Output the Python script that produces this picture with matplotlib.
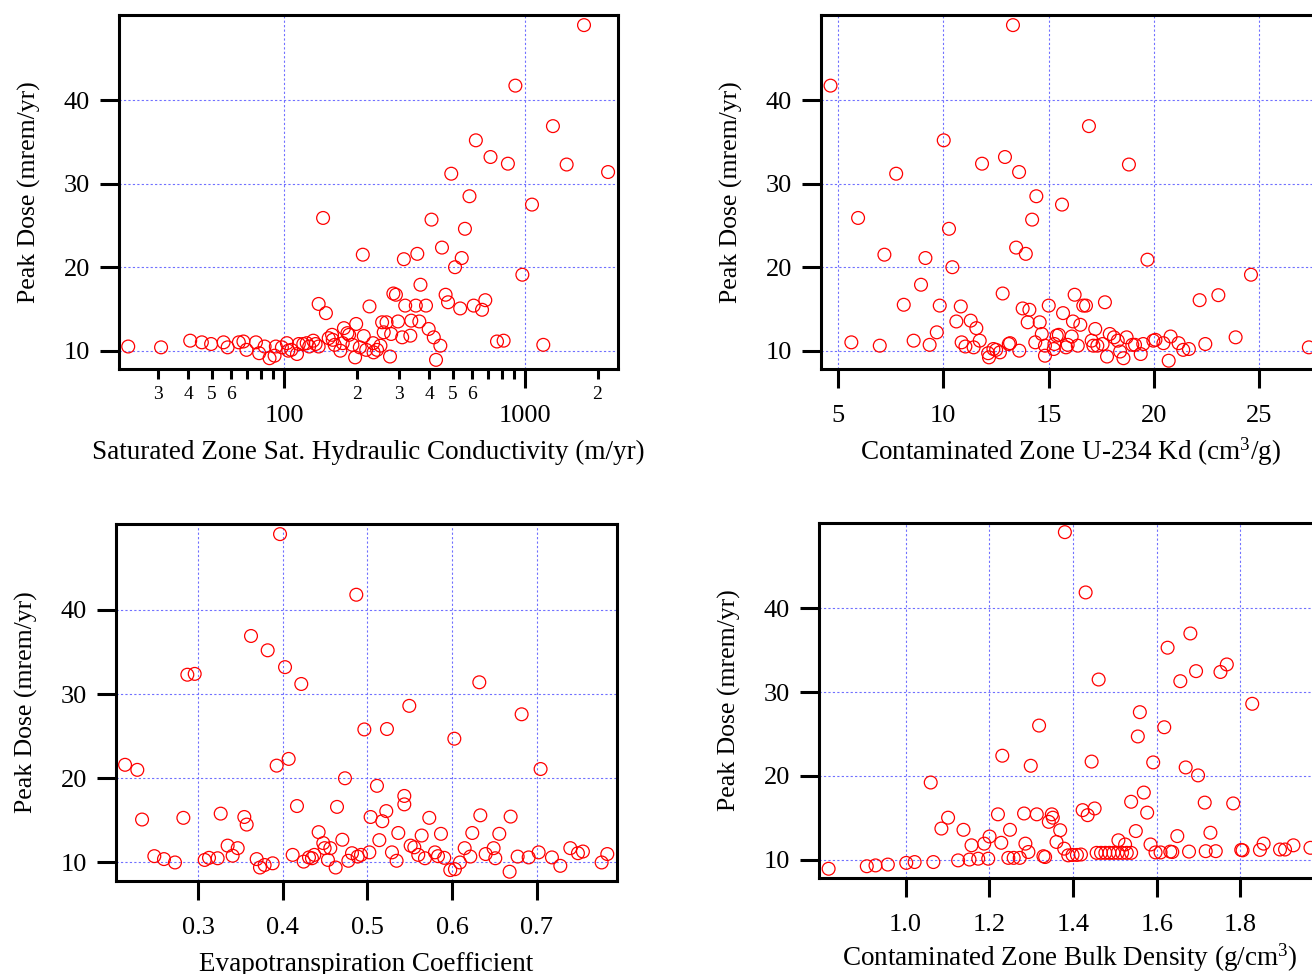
import numpy as np
import matplotlib
matplotlib.use("Agg")
import matplotlib.pyplot as plt
from matplotlib.ticker import FixedLocator, FuncFormatter

plt.rcParams['font.family'] = ['Liberation Serif', 'DejaVu Serif']
plt.rcParams['mathtext.fontset'] = 'custom'
plt.rcParams['mathtext.rm'] = 'Liberation Serif'
plt.rcParams['mathtext.it'] = 'Liberation Serif:italic'

# --- data ---
# panel 1: saturated zone hydraulic conductivity (m/yr), log axis
k_sat = [1758, 912, 1306, 625, 719, 849, 1489, 494, 2213, 588, 1069, 145, 409, 563,
         452, 212, 314, 357, 546, 512, 975, 368, 284, 291, 468, 479, 139, 226, 318,
         352, 388, 538, 612, 663, 684, 149, 255, 266, 297, 337, 364, 199, 177, 186,
         183, 214, 259, 278, 398, 309, 334, 418, 445, 765, 815, 1191, 427, 275, 197,
         235, 243, 251, 234, 219, 206, 192, 171, 175, 162, 159, 153, 158, 139, 132,
         135, 127, 124, 120, 115, 113, 107, 102.6, 104, 97.8, 92.3, 91.2, 86.9, 82.9,
         78.7, 76.3, 69.7, 67.7, 64.8, 58.2, 56.0, 49.7, 45.5, 40.7, 30.8, 22.5]
dose_k = [49.0, 41.75, 36.9, 35.2, 33.2, 32.4, 32.3, 31.2, 31.4, 28.5, 27.5, 25.9, 25.7,
          24.6, 22.35, 21.5, 20.96, 21.6, 21.1, 20.0, 19.1, 17.9, 16.85, 16.7, 16.7,
          15.8, 15.6, 15.3, 15.4, 15.4, 15.4, 15.06, 15.4, 14.9, 16.05, 14.5, 13.4,
          13.4, 13.5, 13.6, 13.5, 13.2, 12.7, 11.9, 12.1, 11.75, 12.2, 12.0, 12.6, 11.6,
          11.8, 11.6, 10.6, 11.1, 11.2, 10.7, 8.9, 9.3, 9.2, 9.8, 10.1, 10.6, 10.9,
          10.1, 10.4, 10.7, 10.0, 10.9, 10.7, 11.3, 11.5, 11.9, 10.5, 11.2, 10.8, 10.5,
          10.9, 10.8, 10.8, 9.6, 10.1, 10.9, 10.0, 10.4, 10.5, 9.4, 9.1, 10.5, 9.7,
          11.0, 10.1, 11.1, 11.0, 10.4, 11.0, 10.8, 11.0, 11.2, 10.4, 10.5]

# panel 2: contaminated zone U-234 Kd (cm3/g)
kd_u234 = [4.64, 13.31, 10.02, 16.92, 12.93, 11.84, 18.82, 13.60, 7.76, 14.42, 15.64,
           5.95, 14.22, 10.27, 13.46, 13.92, 7.20, 9.15, 19.70, 10.43, 24.62, 8.94,
           12.82, 16.24, 23.07, 8.12, 9.83, 10.83, 15.01, 13.77, 14.09, 16.65, 16.78,
           17.68, 22.18, 15.69, 10.62, 11.30, 11.57, 14.01, 14.58, 16.16, 16.51, 17.22,
           9.69, 14.68, 15.39, 15.49, 16.10, 17.91, 18.11, 18.71, 20.80, 23.89, 5.63,
           6.98, 8.59, 9.35, 10.87, 11.05, 11.44, 11.73, 12.13, 12.17, 12.38, 12.51,
           12.69, 13.11, 13.17, 13.61, 14.37, 14.83, 14.83, 15.25, 15.28, 15.83, 15.91,
           16.39, 17.05, 17.13, 17.32, 17.57, 17.78, 18.29, 18.40, 18.56, 18.98, 19.11,
           19.38, 19.50, 19.98, 20.08, 20.46, 20.71, 21.18, 21.40, 21.67, 22.45, 27.37]
dose_kd = [41.75, 49.0, 35.2, 36.9, 33.2, 32.4, 32.3, 31.4, 31.2, 28.5, 27.5, 25.9,
           25.7, 24.6, 22.35, 21.6, 21.5, 21.1, 20.9, 20.0, 19.1, 17.9, 16.85, 16.7,
           16.65, 15.5, 15.4, 15.3, 15.4, 15.06, 14.9, 15.4, 15.4, 15.8, 16.05, 14.5,
           13.5, 13.6, 12.7, 13.4, 13.4, 13.5, 13.1, 12.6, 12.2, 12.0, 11.8, 11.9, 11.7,
           12.0, 11.6, 11.6, 11.7, 11.6, 11.0, 10.6, 11.2, 10.7, 11.0, 10.5, 10.4, 11.2,
           9.7, 9.2, 10.2, 10.1, 9.8, 10.8, 10.9, 10.0, 11.0, 10.6, 9.4, 10.2, 10.8,
           10.4, 10.7, 10.6, 11.2, 10.6, 10.6, 10.8, 9.3, 11.2, 9.9, 9.1, 10.7, 10.7,
           9.6, 10.8, 11.2, 11.3, 10.9, 8.8, 10.9, 10.1, 10.2, 10.8, 10.4]

# panel 3: evapotranspiration coefficient
evap = [0.3969, 0.487, 0.3626, 0.3823, 0.4028, 0.2874, 0.2961, 0.4220, 0.6323, 0.5496,
        0.6823, 0.4965, 0.5232, 0.6028, 0.4071, 0.3929, 0.2138, 0.2283, 0.7047, 0.4736,
        0.5114, 0.5437, 0.5437, 0.4169, 0.4642, 0.3268, 0.3547, 0.3575, 0.2827, 0.2339,
        0.5039, 0.5224, 0.5177, 0.5732, 0.6335, 0.6693, 0.4425, 0.5366, 0.5642, 0.5870,
        0.6240, 0.6559, 0.4705, 0.5142, 0.4480, 0.4496, 0.4563, 0.3350, 0.3409, 0.3469,
        0.5512, 0.5555, 0.6150, 0.6492, 0.7398, 0.7488, 0.7547, 0.7835, 0.7768, 0.2484,
        0.2598, 0.2728, 0.3079, 0.3130, 0.3232, 0.3693, 0.3732, 0.3787, 0.3882, 0.4118,
        0.4248, 0.4311, 0.4346, 0.4374, 0.4535, 0.4626, 0.4776, 0.4819, 0.4886, 0.4925,
        0.5024, 0.5291, 0.5346, 0.5602, 0.5681, 0.5799, 0.5835, 0.5909, 0.5980, 0.6035,
        0.6094, 0.6217, 0.6398, 0.6512, 0.6681, 0.6776, 0.6906, 0.7024, 0.7181, 0.7280]
dose_evap = [49.0, 41.8, 36.9, 35.2, 33.2, 32.3, 32.4, 31.2, 31.4, 28.6, 27.6, 25.8,
             25.85, 24.7, 22.3, 21.5, 21.6, 21.0, 21.1, 20.0, 19.1, 17.9, 16.9, 16.7,
             16.6, 15.8, 15.4, 14.5, 15.3, 15.1, 15.4, 16.1, 14.9, 15.3, 15.6, 15.45,
             13.6, 13.5, 13.2, 13.4, 13.5, 13.4, 12.7, 12.65, 12.3, 11.7, 11.7, 12.0,
             10.8, 11.7, 12.0, 11.8, 11.7, 11.7, 11.7, 11.1, 11.3, 11.0, 10.0, 10.75,
             10.4, 10.0, 10.3, 10.55, 10.5, 10.4, 9.4, 9.7, 9.9, 10.9, 10.1, 10.6, 10.5,
             10.9, 10.3, 9.4, 10.2, 11.1, 10.7, 10.9, 11.2, 11.2, 10.2, 10.9, 10.5, 11.2,
             10.75, 10.55, 9.1, 9.2, 10.0, 10.7, 11.0, 10.5, 8.9, 10.7, 10.6, 11.2, 10.6,
             9.6]

# panel 4: contaminated zone bulk density (g/cm3)
rho = [1.3805, 1.4301, 1.6803, 1.6259, 1.6939, 1.7522, 1.7674, 1.6563, 1.4612, 1.8281,
       1.5596, 1.3189, 1.6179, 1.5548, 1.2310, 1.2990, 1.4444, 1.5915, 1.6691, 1.6987,
       1.0600, 1.5691, 1.5388, 1.7146, 1.7826, 1.5771, 1.4229, 1.4349, 1.4516, 1.1015,
       1.0855, 1.1383, 1.2206, 1.2830, 1.3134, 1.3493, 1.3517, 1.3421, 1.2494, 1.3693,
       1.5500, 1.6491, 1.7282, 1.1575, 1.1879, 1.2006, 1.2286, 1.2862, 1.2934, 1.3605,
       1.3789, 1.5084, 1.5244, 1.5851, 1.8553, 1.9265, 1.9672, 0.8161, 0.9073, 0.9281,
       0.9576, 1.0016, 1.0216, 1.0663, 1.1255, 1.1527, 1.1735, 1.1974, 1.2454, 1.2582,
       1.2726, 1.3293, 1.3333, 1.3885, 1.3989, 1.4093, 1.4189, 1.4564, 1.4668, 1.4772,
       1.4868, 1.4964, 1.5068, 1.5172, 1.5284, 1.5388, 1.5971, 1.6091, 1.6323, 1.6371,
       1.6771, 1.7170, 1.7410, 1.8018, 1.8050, 1.8465, 1.8945, 1.9065]
dose_rho = [49.1, 41.9, 37.0, 35.3, 32.5, 32.4, 33.3, 31.3, 31.5, 28.6, 27.6, 26.0,
            25.8, 24.7, 22.4, 21.2, 21.7, 21.6, 21.0, 20.05, 19.2, 18.0, 16.9, 16.8,
            16.7, 15.6, 15.9, 15.3, 16.1, 15.0, 13.7, 13.55, 15.4, 15.5, 15.4, 15.4,
            15.0, 14.5, 13.55, 13.5, 13.4, 12.8, 13.2, 11.7, 11.9, 12.75, 12.0, 11.9,
            10.9, 12.1, 11.3, 12.3, 11.8, 11.8, 11.9, 11.7, 11.4, 8.9, 9.2, 9.3, 9.4,
            9.6, 9.7, 9.7, 9.9, 10.0, 10.1, 10.1, 10.2, 10.2, 10.2, 10.4, 10.3, 10.5,
            10.55, 10.55, 10.6, 10.8, 10.8, 10.8, 10.8, 10.8, 10.8, 10.8, 10.8, 10.8,
            10.85, 10.85, 10.95, 10.9, 10.95, 11.0, 11.0, 11.15, 11.1, 11.15, 11.2, 11.2]

y_ticks = [10, 20, 30, 40]
y_label = "Peak Dose (mrem/yr)"

GRID_COLOR = '#7070ff'
MARK_COLOR = 'red'


def style_axes(ax):
    ax.set_ylim(7.8, 50.2)
    ax.set_yticks(y_ticks)
    for s in ax.spines.values():
        s.set_linewidth(2.2)
    ax.tick_params(axis='both', which='major', direction='out', length=14, width=2.2,
                   labelsize=19, top=False, right=False)
    ax.tick_params(axis='x', which='major', pad=12)
    ax.tick_params(axis='y', which='major', pad=7)
    ax.grid(True, which='major', color=GRID_COLOR, linestyle=(0, (2, 2)), linewidth=0.8)
    ax.set_axisbelow(True)
    ax.set_ylabel(y_label, fontsize=18.5, labelpad=16)


def draw(ax, x, y):
    ax.scatter(x, y, s=85, facecolors='none', edgecolors=MARK_COLOR, linewidths=0.9,
               clip_on=False, zorder=3)


fig = plt.figure(figsize=(13.12, 9.74), dpi=100)

# top left - log scale conductivity
ax1 = fig.add_axes([0.0907, 0.6211, 0.3803, 0.3634])
draw(ax1, k_sat, dose_k)
ax1.set_xscale('log')
ax1.set_xlim(20.6, 2432)
style_axes(ax1)
ax1.xaxis.set_major_locator(FixedLocator([100, 1000]))
ax1.xaxis.set_major_formatter(FuncFormatter(lambda v, p: '%d' % round(v)))
minors = [m * 10 ** e for e in (1, 2, 3) for m in range(2, 10)]
ax1.xaxis.set_minor_locator(FixedLocator(minors))


def minor_fmt(v, p):
    lead = int(round(v / 10 ** np.floor(np.log10(v) + 1e-9)))
    return str(lead) if lead in (2, 3, 4, 5, 6) else ''


ax1.xaxis.set_minor_formatter(FuncFormatter(minor_fmt))
ax1.tick_params(axis='x', which='minor', direction='out', length=7, width=2.2,
                labelsize=14, pad=5)
ax1.set_xlabel("Saturated Zone Sat. Hydraulic Conductivity (m/yr)", fontsize=19.5, labelpad=9)

# top right - Kd
ax2 = fig.add_axes([0.6258, 0.6211, 0.3803, 0.3634])
draw(ax2, kd_u234, dose_kd)
ax2.set_xlim(4.19, 27.9)
style_axes(ax2)
ax2.set_xticks([5, 10, 15, 20, 25])
ax2.set_xlabel("Contaminated Zone U-234 Kd (cm$^3$/g)", fontsize=19.5, labelpad=6)

# bottom left - evapotranspiration
ax3 = fig.add_axes([0.0884, 0.0955, 0.3819, 0.3665])
draw(ax3, evap, dose_evap)
ax3.set_xlim(0.2031, 0.795)
style_axes(ax3)
ax3.set_xticks([0.3, 0.4, 0.5, 0.6, 0.7])
ax3.xaxis.set_major_formatter(FuncFormatter(lambda v, p: '%.1f' % v))
ax3.set_xlabel("Evapotranspiration Coefficient", fontsize=19.5, labelpad=9)

# bottom right - bulk density
ax4 = fig.add_axes([0.6242, 0.0986, 0.3819, 0.3645])
draw(ax4, rho, dose_rho)
ax4.set_xlim(0.793, 1.99)
style_axes(ax4)
ax4.set_xticks([1.0, 1.2, 1.4, 1.6, 1.8])
ax4.xaxis.set_major_formatter(FuncFormatter(lambda v, p: '%.1f' % v))
ax4.set_xlabel("Contaminated Zone Bulk Density (g/cm$^3$)", fontsize=19.5, labelpad=4)

fig.savefig("out.png", dpi=100)
